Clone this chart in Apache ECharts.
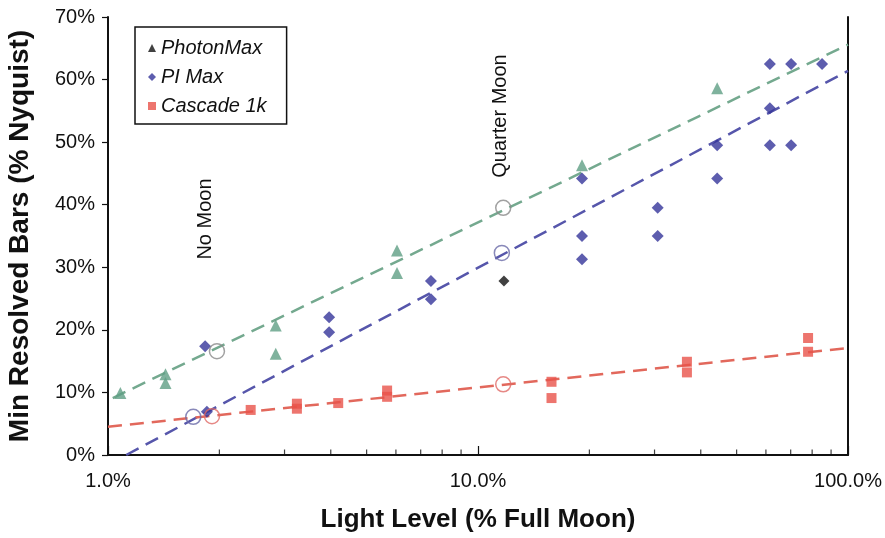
<!DOCTYPE html>
<html>
<head>
<meta charset="utf-8">
<script src="https://cdn.jsdelivr.net/npm/echarts@6/dist/echarts.min.js"></script>
<style>
  html, body { margin: 0; padding: 0; background: #fff; }
  #chart { width: 885px; height: 538px; }
</style>
</head>
<body>
<div id="chart"></div>
<script>
// light level (% full moon), min resolved bars (% nyquist)
var photonMax = [[1.08, 9.9], [1.43, 12.9], [1.43, 11.5], [2.84, 20.7], [2.84, 16.2],
  [6.04, 32.7], [6.04, 29.1], [19.1, 46.3], [44.3, 58.6]];
var photonBlack = [[11.75, 27.8]];
var piMax = [[1.83, 17.4], [1.85, 6.9], [3.96, 22.0], [3.96, 19.6], [7.46, 27.8], [7.46, 24.9],
  [19.1, 44.2], [19.1, 35.0], [19.1, 31.3], [30.6, 39.5], [30.6, 35.0], [44.3, 49.5], [44.3, 44.2],
  [61.5, 62.5], [61.5, 55.4], [61.5, 49.5], [70.2, 62.5], [70.2, 49.5], [85.1, 62.5]];
var cascade = [[2.43, 7.2], [3.24, 7.4], [3.24, 8.2], [4.19, 8.3], [5.68, 9.3], [5.68, 10.3],
  [15.8, 11.7], [15.8, 9.1], [36.7, 14.9], [36.7, 13.2], [78.0, 18.7], [78.0, 16.5]];

// fitted trend lines (end points)
var trendGreen = [[1.03, 9.1], [100, 65.6]];
var trendBlue = [[1.12, 0], [100, 61.4]];
var trendRed = [[1, 4.5], [100, 17.1]];

// open circles where the moon levels cross the fits
var circleGreen = [[1.97, 16.6], [11.7, 39.5]];
var circleBlue = [[1.70, 6.1], [11.6, 32.3]];
var circleRed = [[1.91, 6.2], [11.7, 11.3]];

var minorTicks = [2, 3, 4, 5, 6, 7, 8, 9, 20, 30, 40, 50, 60, 70, 80, 90];

var font = 'Liberation Sans, Arial, sans-serif';
var dash = [14, 8];

function trend(name, data, color) {
  return {
    name: name, type: 'line', data: data, symbol: 'none', silent: true, z: 2,
    lineStyle: { color: color, width: 2.5, type: dash }
  };
}
function circles(name, data, color) {
  return {
    name: name, type: 'scatter', data: data, symbol: 'circle', symbolSize: 15, z: 5,
    itemStyle: { color: 'rgba(255,255,255,0)', borderColor: color, borderWidth: 1.5 }
  };
}

var option = {
  backgroundColor: '#fff',
  animation: false,
  grid: { left: 108, right: 37, top: 17, bottom: 83, outerBoundsMode: 'none' },
  legend: {
    orient: 'vertical',
    left: 135, top: 27,
    padding: [11, 20, 8, 13],
    itemGap: 9,
    itemWidth: 8, itemHeight: 8,
    borderColor: '#111', borderWidth: 1.5,
    textStyle: { fontFamily: font, fontSize: 20, fontStyle: 'italic', color: '#111' },
    data: [
      { name: 'PhotonMax', icon: 'triangle', itemStyle: { color: '#111' } },
      { name: 'PI Max', icon: 'diamond' },
      { name: 'Cascade 1k', icon: 'rect' }
    ]
  },
  xAxis: {
    type: 'log', logBase: 10, min: 1, max: 100,
    name: 'Light Level (% Full Moon)', nameLocation: 'middle', nameGap: 52,
    nameTextStyle: { fontFamily: font, fontSize: 26, fontWeight: 'bold', color: '#111' },
    axisLine: { lineStyle: { color: '#111', width: 2 } },
    axisTick: { inside: true, length: 9, lineStyle: { color: '#111', width: 1.2 } },
    axisLabel: {
      margin: 16, fontFamily: font, fontSize: 20, color: '#111',
      formatter: function (v) { return v.toFixed(1) + '%'; }
    },
    splitLine: { show: false }
  },
  yAxis: [{
    type: 'value', min: 0, max: 70, interval: 10,
    name: 'Min Resolved Bars (% Nyquist)', nameLocation: 'middle', nameGap: 74,
    nameTextStyle: { fontFamily: font, fontSize: 28, fontWeight: 'bold', color: '#111' },
    axisLine: { show: true, lineStyle: { color: '#111', width: 2 } },
    axisTick: { show: true, length: 6, lineStyle: { color: '#111', width: 1.2 } },
    axisLabel: { margin: 13, fontFamily: font, fontSize: 20, color: '#111', formatter: '{value}%' },
    splitLine: { show: false }
  }, {
    type: 'value', min: 0, max: 70, position: 'right',
    axisLine: { show: true, lineStyle: { color: '#111', width: 2 } },
    axisTick: { show: false }, axisLabel: { show: false }, splitLine: { show: false }
  }],
  graphic: [
    { type: 'text', x: 205, y: 219, rotation: Math.PI / 2,
      style: { text: 'No Moon', fontFamily: font, fontSize: 20, fill: '#111', align: 'center', verticalAlign: 'middle' } },
    { type: 'text', x: 500, y: 116, rotation: Math.PI / 2,
      style: { text: 'Quarter Moon', fontFamily: font, fontSize: 20, fill: '#111', align: 'center', verticalAlign: 'middle' } }
  ],
  series: [
    trend('fitGreen', trendGreen, '#74a98f'),
    trend('fitBlue', trendBlue, '#5656ab'),
    trend('fitRed', trendRed, '#e2685c'),
    {
      name: 'minorTicks', type: 'scatter', data: minorTicks.map(function (v) { return [v, 0]; }),
      symbol: 'rect', symbolSize: [1.2, 5], symbolOffset: [0, -3], silent: true, z: 6,
      itemStyle: { color: '#111' }
    },
    {
      name: 'PhotonMax', type: 'scatter', data: photonMax, symbol: 'triangle', symbolSize: 12, z: 4,
      itemStyle: { color: '#5f9f84' }
    },
    {
      name: 'PhotonMax black', type: 'scatter', data: photonBlack, symbol: 'diamond', symbolSize: 11, z: 4,
      itemStyle: { color: '#111' }
    },
    {
      name: 'PI Max', type: 'scatter', data: piMax, symbol: 'diamond', symbolSize: 12, z: 4,
      itemStyle: { color: '#34359a' }
    },
    {
      name: 'Cascade 1k', type: 'scatter', data: cascade, symbol: 'rect', symbolSize: 10, z: 4,
      itemStyle: { color: '#e9524a' }
    },
    circles('circleGreen', circleGreen, '#8a8a8a'),
    circles('circleBlue', circleBlue, '#6a6aa8'),
    circles('circleRed', circleRed, '#e06a66')
  ]
};

var myChart = echarts.init(document.getElementById('chart'));
myChart.setOption(option);
</script>
</body>
</html>
